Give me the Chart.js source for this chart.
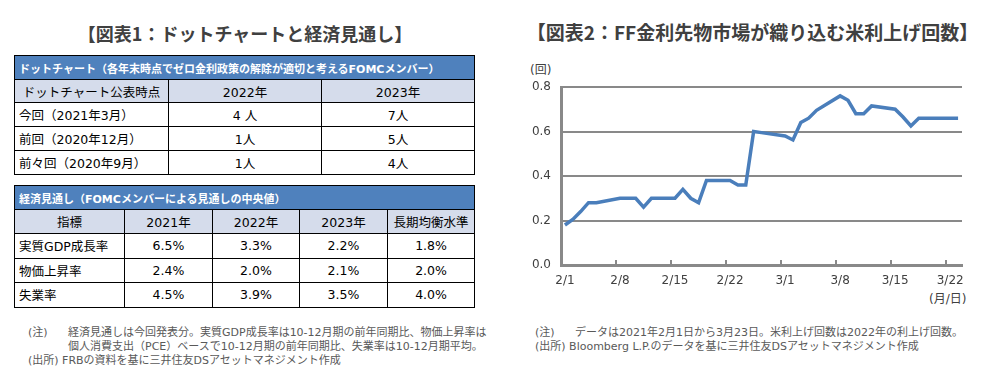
<!DOCTYPE html>
<html lang="ja">
<head>
<meta charset="utf-8">
<script src="https://cdn.jsdelivr.net/npm/chart.js@4/dist/chart.umd.min.js"></script>
<style>
  html, body { margin:0; padding:0; background:#fff; }
  body { width:991px; height:371px; position:relative; overflow:hidden;
         font-family:"DejaVu Sans","Noto Sans CJK JP",sans-serif; color:#000; }
  .title { position:absolute; font-family:"Noto Sans CJK JP",sans-serif; font-weight:bold;
           font-size:18px; color:#404040; white-space:nowrap; line-height:20px; }
  table { position:absolute; border-collapse:collapse; table-layout:fixed; font-size:12.5px; }
  td { border:1px solid #000; padding:0 4px; white-space:nowrap; text-align:center; }
  td.l { text-align:left; }
  tr.hd td { background:#4F81BD; color:#fff; font-weight:bold; font-size:11px; text-align:left;
             font-family:"DejaVu Sans","Noto Sans CJK JP",sans-serif; }
  tr.sub td { background:#D5DCEB; }
  .note { position:absolute; font-size:11px; color:#595959; white-space:nowrap; line-height:14px; }
  .lbl { position:absolute; font-size:12px; color:#404040; white-space:nowrap; }
</style>
</head>
<body>
<div class="title" style="left:0;width:490px;text-align:center;top:23px;">【図表1：ドットチャートと経済見通し】</div>
<div class="title" style="left:505px;width:495px;text-align:center;top:22px;font-size:19px;">【図表2：FF金利先物市場が織り込む米利上げ回数】</div>

<table id="t1" style="left:14px;top:55px;width:461px;">
  <colgroup><col style="width:154px"><col style="width:153px"><col style="width:153px"></colgroup>
</table>
<table id="t2" style="left:14px;top:185px;width:461px;">
  <colgroup><col style="width:110px"><col style="width:88px"><col style="width:87px"><col style="width:88px"><col style="width:87px"></colgroup>
</table>

<div class="note" style="left:28px;top:326px;">(注)</div>
<div class="note" style="left:68px;top:326px;">経済見通しは今回発表分。実質GDP成長率は10-12月期の前年同期比、物価上昇率は<br>個人消費支出（PCE）ベースで10-12月期の前年同期比、失業率は10-12月期平均。</div>
<div class="note" style="left:28px;top:354px;">(出所)&nbsp;FRBの資料を基に三井住友DSアセットマネジメント作成</div>

<div class="note" style="left:535px;top:326px;">(注)</div>
<div class="note" style="left:575px;top:326px;">データは2021年2月1日から3月23日。米利上げ回数は2022年の利上げ回数。</div>
<div class="note" style="left:535px;top:340px;">(出所)&nbsp;Bloomberg L.P.のデータを基に三井住友DSアセットマネジメント作成</div>

<div class="lbl" style="left:530px;top:60px;">(回)</div>
<div class="lbl" style="left:929px;top:289px;">(月/日)</div>

<div style="position:absolute;left:500px;top:60px;width:491px;height:250px;">
  <canvas id="c" width="491" height="250"></canvas>
</div>

<script>
// ---- Table data ----
const dotTitle = "ドットチャート（各年末時点でゼロ金利政策の解除が適切と考えるFOMCメンバー）";
const dotHeaders = ["ドットチャート公表時点", "2022年", "2023年"];
const dotRows = ["今回（2021年3月）", "前回（2020年12月）", "前々回（2020年9月）"];
const dot2022 = ["4 人", "1人", "1人"];
const dot2023 = ["7人", "5人", "4人"];

const ecoTitle = "経済見通し（FOMCメンバーによる見通しの中央値）";
const ecoHeaders = ["指標", "2021年", "2022年", "2023年", "長期均衡水準"];
const ecoRows = ["実質GDP成長率", "物価上昇率", "失業率"];
const eco2021 = ["6.5%", "2.4%", "4.5%"];
const eco2022 = ["3.3%", "2.0%", "3.9%"];
const eco2023 = ["2.2%", "2.1%", "3.5%"];
const ecoLong = ["1.8%", "2.0%", "4.0%"];

// ---- Chart data ----
const dates = ["2/1","2/2","2/3","2/4","2/5","2/8","2/9","2/10","2/11","2/12",
  "2/15","2/16","2/17","2/18","2/19","2/22","2/23","2/24","2/25","2/26",
  "3/1","3/2","3/3","3/4","3/5","3/8","3/9","3/10","3/11","3/12",
  "3/15","3/16","3/17","3/18","3/19","3/22","3/23"];
const hikes = [0.18,0.205,0.24,0.28,0.28,0.30,0.30,0.30,0.26,0.30,
  0.30,0.34,0.30,0.28,0.38,0.38,0.36,0.36,0.60,0.595,
  0.58,0.562,0.64,0.66,0.695,0.76,0.74,0.68,0.68,0.715,
  0.70,0.665,0.625,0.66,0.66,0.66,0.66];
const xTickLabels = ["2/1","2/8","2/15","2/22","3/1","3/8","3/15","3/22"];
const yTicks = [0, 0.2, 0.4, 0.6, 0.8];

// ---- build tables ----
function addRow(tbl, cells, cls, h, leftFirst) {
  const tr = document.createElement('tr');
  if (cls) tr.className = cls;
  tr.style.height = h + 'px';
  cells.forEach((c, i) => {
    const td = document.createElement('td');
    td.textContent = c;
    if (leftFirst && i === 0) td.className = 'l';
    tr.appendChild(td);
  });
  tbl.appendChild(tr);
  return tr;
}
const t1 = document.getElementById('t1');
let r = addRow(t1, [dotTitle], 'hd', 24); r.firstChild.colSpan = 3;
addRow(t1, dotHeaders, 'sub', 23);
dotRows.forEach((n, i) => addRow(t1, [n, dot2022[i], dot2023[i]], '', 24, true));
const t2 = document.getElementById('t2');
r = addRow(t2, [ecoTitle], 'hd', 24); r.firstChild.colSpan = 5;
addRow(t2, ecoHeaders, 'sub', 24);
ecoRows.forEach((n, i) => addRow(t2, [n, eco2021[i], eco2022[i], eco2023[i], ecoLong[i]], '', 24.5, true));

// ---- chart ----
function dayIndex(s) {
  const [m, d] = s.split('/').map(Number);
  return (m === 2 ? 0 : 28) + d - 1;
}
const gray = '#898989';
const tickMarks = {
  id: 'tickMarks',
  afterDraw(chart) {
    const xs = chart.scales.x, ctx = chart.ctx, b = chart.chartArea.bottom;
    ctx.save();
    ctx.strokeStyle = gray; ctx.lineWidth = 2;
    xTickLabels.slice(1).forEach(l => {
      const px = Math.round(xs.getPixelForValue(dayIndex(l) - 0.5));
      ctx.beginPath(); ctx.moveTo(px, b); ctx.lineTo(px, b - 5); ctx.stroke();
    });
    ctx.restore();
  }
};
new Chart(document.getElementById('c'), {
  type: 'line',
  data: {
    datasets: [{
      data: dates.map((d, i) => ({ x: dayIndex(d), y: hikes[i] })),
      borderColor: '#4A7EBB', borderWidth: 3.5, pointRadius: 0, tension: 0, fill: false
    }]
  },
  options: {
    responsive: false, animation: false, devicePixelRatio: 1,
    layout: { padding: { top: 27, right: 29, left: 0, bottom: 0 } },
    plugins: { legend: { display: false }, tooltip: { enabled: false } },
    scales: {
      x: {
        type: 'linear', min: -0.5, max: 50.5,
        afterBuildTicks: s => { s.ticks = xTickLabels.map(l => ({ value: dayIndex(l) })); },
        afterFit: s => { s.height = 45; },
        ticks: {
          callback: v => xTickLabels.find(l => dayIndex(l) === v) || '',
          autoSkip: false, maxRotation: 0, padding: 9,
          color: '#404040', font: { family: 'DejaVu Sans', size: 12 }
        },
        grid: { display: false, drawTicks: false },
        border: { display: true, color: gray, width: 3 }
      },
      y: {
        min: 0, max: 0.8,
        afterBuildTicks: s => { s.ticks = yTicks.map(v => ({ value: v })); },
        afterFit: s => { s.width = 61; },
        ticks: {
          callback: v => v.toFixed(1), padding: 10,
          color: '#404040', font: { family: 'DejaVu Sans', size: 12 }
        },
        grid: { color: gray, lineWidth: 2, drawTicks: false },
        border: { display: true, color: gray, width: 3 }
      }
    }
  },
  plugins: [tickMarks]
});
</script>
</body>
</html>
